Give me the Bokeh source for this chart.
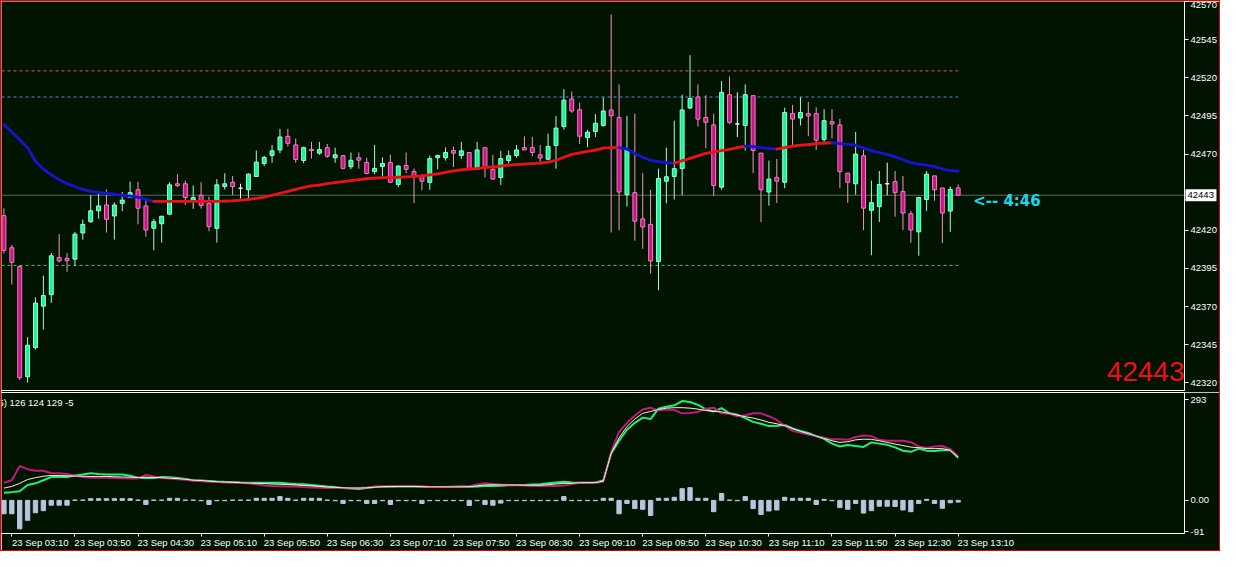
import pandas as pd
from bokeh.plotting import figure
from bokeh.models import (Range1d, FixedTicker, LinearAxis, Span, Label,
                          ColumnDataSource, PrintfTickFormatter)
from bokeh.core.properties import value
from bokeh.layouts import column
from bokeh.embed import file_html
from bokeh.resources import INLINE

# ---------------- data ----------------
bar_start = "2024-09-23 03:05"
bar_minutes = 5

opens = [42429.6, 42408.6, 42396.3, 42324.0, 42343.1, 42370.3, 42377.8, 42402.2, 42401.6, 42401.1,
         42418.3, 42425.6, 42432.8, 42436.6, 42429.4, 42437.7, 42441.5, 42446.6, 42436.0, 42421.3,
         42424.3, 42430.6, 42450.5, 42450.5, 42439.8, 42443.0, 42437.7, 42421.3, 42448.7, 42451.5,
         42447.6, 42446.6, 42455.3, 42463.8, 42469.1, 42472.7, 42481.6, 42476.0, 42465.8, 42473.1,
         42470.6, 42474.2, 42467.6, 42468.9, 42461.7, 42467.6, 42464.5, 42458.5, 42461.8, 42464.5,
         42450.0, 42462.5, 42458.5, 42455.3, 42451.5, 42467.6, 42467.6, 42472.3, 42469.1, 42471.0,
         42460.0, 42474.2, 42460.0, 42454.6, 42465.7, 42469.1, 42474.2, 42474.2, 42469.5, 42466.6,
         42475.6, 42488.0, 42506.1, 42499.0, 42480.8, 42484.8, 42488.7, 42498.9, 42494.0, 42443.4,
         42444.7, 42427.5, 42423.9, 42399.5, 42452.2, 42455.3, 42460.4, 42500.2, 42507.4, 42494.0,
         42489.1, 42448.3, 42508.9, 42489.7, 42488.7, 42508.3, 42470.6, 42445.1, 42454.7, 42451.5,
         42496.5, 42493.6, 42496.5, 42496.5, 42479.5, 42491.2, 42489.1, 42457.5, 42450.5, 42468.9,
         42433.1, 42435.5, 42450.5, 42451.9, 42445.5, 42430.9, 42419.0, 42440.2, 42455.7, 42447.8,
         42432.6, 42447.8]
highs = [42434.5, 42410.5, 42397.0, 42350.0, 42376.0, 42390.3, 42405.1, 42417.5, 42405.1, 42419.0,
         42427.0, 42443.0, 42444.0, 42446.8, 42438.3, 42445.1, 42451.9, 42451.9, 42440.9, 42427.5,
         42429.5, 42451.5, 42456.8, 42452.6, 42449.4, 42451.5, 42442.1, 42453.6, 42457.4, 42455.7,
         42450.5, 42457.4, 42472.3, 42468.9, 42475.9, 42486.5, 42486.5, 42480.2, 42474.9, 42478.0,
         42478.0, 42476.6, 42474.2, 42469.5, 42471.0, 42471.0, 42467.6, 42476.0, 42467.8, 42469.5,
         42462.8, 42471.0, 42460.4, 42456.8, 42469.0, 42469.5, 42474.4, 42474.9, 42478.0, 42471.0,
         42478.0, 42474.2, 42469.5, 42472.0, 42472.3, 42476.0, 42481.6, 42481.2, 42476.0, 42483.4,
         42495.0, 42512.5, 42511.0, 42503.6, 42485.9, 42496.3, 42507.2, 42561.5, 42515.7, 42495.0,
         42496.5, 42457.5, 42446.6, 42460.4, 42474.2, 42491.9, 42508.9, 42534.8, 42515.7, 42508.5,
         42496.5, 42517.8, 42521.0, 42510.4, 42515.7, 42508.3, 42470.6, 42465.7, 42466.8, 42500.4,
         42502.1, 42507.2, 42504.2, 42500.7, 42499.4, 42499.4, 42493.0, 42457.5, 42484.5, 42472.7,
         42452.6, 42458.9, 42464.3, 42458.9, 42455.7, 42432.8, 42441.5, 42458.9, 42455.7, 42447.8,
         42448.7, 42450.0]
lows = [42404.8, 42384.5, 42321.9, 42320.2, 42342.0, 42354.9, 42372.4, 42399.0, 42392.8, 42396.7,
        42413.9, 42425.0, 42427.7, 42418.6, 42413.9, 42432.6, 42441.0, 42423.9, 42415.8, 42406.9,
        42412.0, 42430.0, 42448.5, 42436.6, 42434.1, 42434.3, 42419.4, 42412.0, 42446.8, 42443.0,
        42440.9, 42441.2, 42455.0, 42462.1, 42464.3, 42470.6, 42474.9, 42464.3, 42464.0, 42467.0,
        42469.5, 42467.6, 42464.3, 42460.0, 42460.0, 42460.4, 42456.8, 42456.8, 42455.7, 42451.0,
        42448.3, 42457.4, 42437.7, 42446.2, 42446.6, 42460.0, 42465.7, 42461.5, 42466.8, 42460.0,
        42459.6, 42454.6, 42453.2, 42449.8, 42463.8, 42467.6, 42472.7, 42468.5, 42464.3, 42466.0,
        42460.4, 42486.0, 42497.0, 42476.6, 42474.4, 42481.2, 42488.0, 42418.6, 42420.0, 42435.5,
        42413.2, 42407.9, 42391.6, 42380.7, 42437.7, 42440.2, 42443.0, 42499.5, 42488.0, 42473.8,
        42442.6, 42446.6, 42489.7, 42481.2, 42472.3, 42457.5, 42425.4, 42436.2, 42438.0, 42447.6,
        42474.9, 42488.7, 42481.7, 42472.7, 42477.4, 42480.2, 42447.6, 42438.0, 42443.4, 42420.0,
        42403.7, 42425.4, 42443.0, 42428.9, 42420.2, 42411.8, 42403.3, 42432.6, 42439.4, 42411.7,
        42419.0, 42443.0]
closes = [42406.9, 42399.0, 42323.4, 42344.7, 42372.3, 42377.2, 42403.3, 42399.9, 42400.1, 42417.5,
          42423.9, 42432.8, 42436.0, 42427.2, 42436.6, 42439.8, 42444.7, 42434.5, 42420.2, 42425.6,
          42429.2, 42449.8, 42449.3, 42441.5, 42441.5, 42436.2, 42422.4, 42449.8, 42450.5, 42448.7,
          42447.6, 42456.8, 42464.7, 42467.8, 42472.1, 42481.2, 42477.0, 42466.4, 42474.2, 42472.3,
          42472.9, 42468.5, 42469.5, 42460.6, 42465.9, 42466.0, 42457.2, 42460.6, 42463.8, 42451.5,
          42462.1, 42460.0, 42455.1, 42452.2, 42467.0, 42469.0, 42471.0, 42470.6, 42472.1, 42460.4,
          42472.7, 42461.0, 42453.6, 42467.0, 42468.9, 42472.7, 42472.7, 42471.0, 42467.4, 42475.0,
          42487.0, 42505.3, 42498.2, 42481.7, 42484.4, 42490.2, 42498.2, 42495.1, 42445.1, 42472.7,
          42426.0, 42422.2, 42399.9, 42454.0, 42455.1, 42460.4, 42498.9, 42506.4, 42492.9, 42490.8,
          42449.4, 42510.4, 42490.8, 42489.7, 42508.9, 42472.3, 42446.6, 42453.6, 42452.2, 42497.2,
          42492.9, 42497.2, 42495.0, 42479.1, 42491.9, 42489.7, 42458.5, 42451.5, 42470.0, 42434.5,
          42438.1, 42450.0, 42450.5, 42444.7, 42431.3, 42420.2, 42441.5, 42456.8, 42446.6, 42431.3,
          42446.8, 42443.0]

ma_line = [42489.5, 42484.4, 42479.3, 42474.2, 42465.3, 42460.2, 42456.4, 42453.2, 42450.6, 42448.7,
           42446.8, 42445.5, 42444.9, 42444.3, 42443.6, 42443.0, 42442.4, 42441.7, 42440.2, 42439.0,
           42439.0, 42439.0, 42439.0, 42439.0, 42439.0, 42439.0, 42439.0, 42439.0, 42439.1, 42439.3,
           42439.8, 42440.3, 42441.0, 42441.7, 42443.0, 42444.3, 42445.5, 42446.8, 42448.1, 42449.1,
           42449.7, 42450.6, 42451.3, 42451.9, 42452.6, 42453.2, 42453.8, 42454.2, 42454.5, 42454.5,
           42454.8, 42455.1, 42455.4, 42455.7, 42456.4, 42457.0, 42458.0, 42458.9, 42459.6, 42460.2,
           42460.5, 42461.2, 42461.5, 42462.1, 42462.8, 42463.1, 42463.4, 42463.7, 42464.0, 42464.7,
           42465.9, 42467.9, 42469.8, 42470.7, 42471.7, 42472.6, 42473.9, 42474.2, 42474.2, 42473.3,
           42470.4, 42467.9, 42465.9, 42465.0, 42464.3, 42464.0, 42465.6, 42467.2, 42468.8, 42470.4,
           42471.4, 42472.3, 42473.0, 42474.2, 42475.2, 42474.9, 42474.2, 42473.6, 42473.3, 42474.2,
           42475.2, 42475.8, 42476.1, 42476.8, 42477.1, 42477.4, 42476.8, 42476.4, 42475.8, 42473.9,
           42472.3, 42471.0, 42469.8, 42468.2, 42466.3, 42464.3, 42463.4, 42462.8, 42461.8, 42460.2,
           42459.2, 42458.9]

osc_pink = [51.5, 58.7, 100.0, 90.9, 86.2, 86.2, 79.1, 79.1, 77.1, 72.5,
            68.0, 66.1, 66.1, 66.1, 65.3, 64.2, 63.4, 63.4, 74.4, 69.7,
            65.3, 63.4, 61.4, 59.8, 57.0, 55.9, 54.3, 53.2, 52.3, 51.5,
            50.4, 49.6, 46.8, 43.3, 42.1, 41.3, 40.5, 40.5, 38.6, 37.7,
            36.6, 35.8, 35.8, 35.8, 35.8, 35.8, 37.7, 40.5, 41.3, 41.3,
            42.1, 42.1, 42.1, 40.5, 38.6, 38.6, 38.6, 38.6, 38.6, 41.3,
            46.0, 49.6, 47.7, 46.0, 44.9, 44.1, 43.3, 42.1, 42.1, 42.1,
            42.1, 43.3, 47.7, 51.5, 51.5, 51.5, 54.3, 141.3, 199.7, 225.9,
            247.1, 264.5, 270.0, 261.7, 264.5, 263.1, 253.5, 254.8, 257.6, 267.2,
            270.0, 253.5, 252.1, 245.2, 248.0, 253.5, 253.5, 245.2, 234.2, 217.6,
            202.5, 197.0, 192.0, 187.3, 182.7, 177.7, 178.2, 176.3, 184.6, 188.7,
            187.3, 176.3, 173.6, 173.6, 173.6, 169.4, 157.0, 152.4, 157.0, 158.4,
            148.8, 129.0]
osc_green = [22.0, 24.0, 26.7, 44.9, 49.6, 58.7, 68.0, 68.0, 68.0, 72.5,
             75.2, 79.1, 77.1, 75.2, 75.2, 75.2, 71.6, 65.3, 65.3, 65.3,
             68.0, 67.5, 65.3, 62.0, 58.7, 57.9, 56.5, 55.1, 54.3, 53.7,
             52.3, 51.5, 51.5, 51.5, 51.5, 51.0, 48.8, 47.7, 46.8, 44.9,
             42.7, 40.5, 38.6, 35.8, 34.4, 33.1, 35.8, 38.6, 39.4, 39.9,
             40.5, 40.5, 40.5, 39.9, 38.6, 38.6, 38.6, 39.9, 40.5, 39.9,
             40.5, 42.1, 42.1, 42.7, 44.1, 44.9, 44.9, 46.0, 46.8, 49.6,
             52.3, 54.3, 52.3, 51.5, 51.5, 52.3, 57.9, 136.9, 173.6, 205.8,
             225.9, 241.0, 236.9, 267.2, 272.7, 276.9, 289.3, 286.5, 278.3, 265.3,
             259.0, 268.6, 253.5, 249.3, 239.7, 228.7, 223.2, 216.3, 217.6, 219.5,
             209.4, 202.5, 196.4, 187.3, 179.1, 165.3, 157.0, 161.2, 158.4, 155.7,
             168.9, 165.3, 161.7, 154.3, 144.6, 141.3, 150.7, 144.6, 144.1, 146.0,
             146.0, 124.0]
osc_white = [35.8, 40.5, 49.6, 60.6, 66.1, 70.3, 72.5, 72.5, 71.6, 70.8,
             70.3, 69.7, 69.7, 69.7, 68.9, 68.0, 67.5, 66.9, 67.5, 66.9,
             66.1, 64.7, 63.4, 61.4, 58.7, 57.9, 55.9, 54.3, 53.2, 52.3,
             51.5, 50.4, 49.6, 48.8, 47.7, 46.8, 46.0, 44.9, 43.3, 42.1,
             40.5, 38.6, 37.7, 36.6, 35.8, 35.8, 36.6, 38.6, 39.9, 40.5,
             40.5, 40.5, 40.5, 39.9, 39.4, 39.4, 39.4, 39.4, 39.4, 39.9,
             42.1, 44.9, 45.5, 44.9, 44.9, 44.6, 44.1, 44.1, 44.1, 45.5,
             47.7, 49.6, 49.6, 51.5, 51.5, 51.8, 55.9, 137.8, 181.8, 214.9,
             236.9, 253.5, 259.0, 264.5, 268.6, 270.0, 270.0, 268.6, 265.9, 261.7,
             259.0, 257.6, 253.5, 248.0, 243.8, 239.7, 234.2, 227.3, 223.2, 217.6,
             209.4, 201.1, 194.2, 187.3, 180.5, 173.6, 168.9, 170.8, 176.3, 178.2,
             177.7, 173.6, 168.9, 163.9, 159.8, 155.1, 153.5, 150.7, 150.7, 150.7,
             146.0, 126.0]
osc_hist = [-39, -39, -83, -58, -36, -30, -14, -14, -14, 1,
            1, 5, 5, 5, 5, 5, 5, 1, -12, 1,
            1, 6, 6, 1, 1, -1, -12, -1, -1, 1,
            1, 1, 6, 6, 6, 11, 6, 1, 6, 6,
            6, 1, -1, -9, -1, -1, -9, -9, -1, -12,
            -1, -1, -1, -9, -1, -1, -1, -1, -1, -15,
            -1, -12, -14, -8, -1, -1, -1, -1, -1, -1,
            -1, 11, -1, -1, -1, -1, 6, 6, -39, -9,
            -24, -26, -44, 6, 6, 9, 34, 37, 6, 6,
            -33, 20, 1, -1, 11, -24, -41, -31, -28, 9,
            6, 6, 6, -12, 3, -1, -21, -26, -9, -37,
            -30, -17, -17, -18, -28, -33, -9, 3, -9, -23,
            -7, -5]

levels = [42524.5, 42507.4, 42397.0]
price_ticks = [42320, 42345, 42370, 42395, 42420, 42470, 42495, 42520, 42545, 42570]
ind_ticks = [-91, 0, 293]
ind_tick_labels = ["-91", "0.00", "293"]
x_tick_labels = ["23 Sep 03:10", "23 Sep 03:50", "23 Sep 04:30", "23 Sep 05:10",
                 "23 Sep 05:50", "23 Sep 06:30", "23 Sep 07:10", "23 Sep 07:50",
                 "23 Sep 08:30", "23 Sep 09:10", "23 Sep 09:50", "23 Sep 10:30",
                 "23 Sep 11:10", "23 Sep 11:50", "23 Sep 12:30", "23 Sep 13:10"]
countdown_text = "<-- 4:46"
ind_caption = "5) 126 124 129 -5"

# ---------------- style ----------------
BG = "#001400"
W = 1218
HA = 391
HB = 158
RB = 33
FRAME_W = W - RB
FONT = "Liberation Sans"
FS = "9.5px"
BULL_FILL, BULL_LINE = "#14f59a", "#9effd6"
BEAR_FILL, BEAR_LINE = "#c8158a", "#f07cbf"
DOJI = "#ffffff"
MA_UP, MA_DOWN = "#ee1111", "#1414d2"
LEVEL_COLORS = ["#ff5533", "#4f8ff0", "#2ed22e"]

# ---------------- derived ----------------
times = pd.date_range(bar_start, periods=len(opens), freq=f"{bar_minutes}min")
t_ms = [int(v) for v in (times.asi8 // 10**6)]
step = bar_minutes * 60 * 1000
x_start = t_ms[0] - 0.31 * step
x_end = t_ms[0] + 149.7 * step
xr = Range1d(x_start, x_end)
px_ms = (x_end - x_start) / FRAME_W

day = times[0].strftime("%Y-%m-%d")
x_ticks = [int(pd.Timestamp(f"{day} {lab[-5:]}").value // 10**6) for lab in x_tick_labels]
# labels are centred by Bokeh; non-breaking padding makes the visible text start at its tick
x_overrides = {}
for i, (t, lab) in enumerate(zip(x_ticks, x_tick_labels)):
    n_pad = 4 if i == 0 else 21
    x_overrides[t] = "\u00a0" * n_pad + lab

fills, lines, wicks = [], [], []
for o, c in zip(opens, closes):
    if c > o:
        fills.append(BULL_FILL); lines.append(BULL_LINE); wicks.append(BULL_LINE)
    elif c < o:
        fills.append(BEAR_FILL); lines.append(BEAR_LINE); wicks.append("#f096c4")
    else:
        fills.append(DOJI); lines.append(DOJI); wicks.append(DOJI)

src = ColumnDataSource(dict(
    t=t_ms, o=opens, h=highs, l=lows, c=closes,
    top=[max(o, c) for o, c in zip(opens, closes)],
    bot=[min(o, c) for o, c in zip(opens, closes)],
    fill=fills, line=lines, wick=wicks))


def style_axis(ax):
    ax.axis_line_color = "white"
    ax.major_tick_line_color = "white"
    ax.major_tick_out = 4
    ax.major_tick_in = 0
    ax.minor_tick_line_color = None
    ax.minor_tick_out = 0
    ax.minor_tick_in = 0
    ax.major_label_text_color = "white"
    ax.major_label_text_font = FONT
    ax.major_label_text_font_size = FS
    ax.major_label_standoff = 2


def edge_axis():
    return LinearAxis(ticker=FixedTicker(ticks=[]), axis_line_color="white",
                      major_tick_line_color=None, minor_tick_line_color=None,
                      major_tick_out=0, major_tick_in=0, minor_tick_out=0, minor_tick_in=0,
                      major_label_text_font_size="0px", major_label_standoff=0)


# ---------------- main price panel ----------------
pA = figure(width=W, height=HA, x_range=xr, y_range=Range1d(42315, 42570),
            x_axis_location=None, y_axis_location="right",
            output_backend="svg", toolbar_location=None,
            background_fill_color=BG, border_fill_color=BG,
            min_border_left=0, min_border_top=0, min_border_bottom=2, min_border_right=RB)
pA.outline_line_color = None
pA.grid.visible = False
style_axis(pA.yaxis[0])
pA.yaxis[0].ticker = FixedTicker(ticks=price_ticks)
pA.yaxis[0].formatter = PrintfTickFormatter(format="%d")
pA.add_layout(edge_axis(), "below")

price_line = Span(location=closes[-1], dimension="width", line_color="#5c675a",
                  line_width=1, level="underlay")
pA.add_layout(price_line)

pA.segment(x0=[x_start] * len(levels), y0=levels, x1=[t_ms[-1]] * len(levels), y1=levels,
           line_color=LEVEL_COLORS, line_width=1, line_dash="3 3")

pA.segment(x0="t", y0="l", x1="t", y1="h", line_color="wick", line_width=1, source=src)
pA.vbar(x="t", width=0.5 * step, top="top", bottom="bot", fill_color="fill",
        line_color="line", line_width=1, source=src)

ma_cols = [MA_UP if b >= a else MA_DOWN for a, b in zip(ma_line[:-1], ma_line[1:])]
pA.segment(x0=t_ms[:-1], y0=ma_line[:-1], x1=t_ms[1:], y1=ma_line[1:],
           line_color=ma_cols, line_width=2.8, line_cap="round")

pA.add_layout(Label(x=t_ms[-1], y=closes[-1], x_offset=15, y_offset=-6,
                    text=countdown_text, text_font="DejaVu Sans", text_font_style="bold",
                    text_font_size="15px", text_color="#18d8ee", text_baseline="middle"))
pA.add_layout(Label(x=FRAME_W - 2, x_units="screen", y=42315, y_offset=10,
                    text=f"{closes[-1]:.0f}", text_font=FONT, text_font_size="28px",
                    text_color="#f01010", text_align="right", text_baseline="bottom"))

# current-price marker on the price scale (drawn at overlay level so it sits on the axis)
pA.rect(x=[x_end + 16.5 * px_ms], y=[closes[-1]], width=31, height=12,
        width_units="screen", height_units="screen",
        fill_color="white", line_color=None, level="overlay")
pA.text(x=[x_end], y=[closes[-1]], text=[f"{closes[-1]:.0f}"], x_offset=3,
        text_font=value(FONT), text_font_size=value(FS), text_color="black",
        text_baseline="middle", text_align="left", level="overlay")

# ---------------- oscillator panel ----------------
pB = figure(width=W, height=HB, x_range=xr, y_range=Range1d(-96.5, 314.2),
            x_axis_location="below", y_axis_location="right",
            output_backend="svg", toolbar_location=None,
            background_fill_color=BG, border_fill_color=BG,
            min_border_left=0, min_border_top=0, min_border_bottom=0, min_border_right=RB)
pB.outline_line_color = None
pB.grid.visible = False
style_axis(pB.yaxis[0])
pB.yaxis[0].ticker = FixedTicker(ticks=ind_ticks)
pB.yaxis[0].major_label_overrides = {t: s for t, s in zip(ind_ticks, ind_tick_labels)}
style_axis(pB.xaxis[0])
pB.xaxis[0].major_tick_out = 3
pB.xaxis[0].major_label_standoff = 0
pB.xaxis[0].ticker = FixedTicker(ticks=x_ticks)
pB.xaxis[0].major_label_overrides = x_overrides
pB.add_layout(edge_axis(), "above")

pB.vbar(x=t_ms, width=0.55 * step, top=osc_hist, bottom=0,
        fill_color="#b4c6e0", line_color="#b4c6e0", line_width=1)
pB.line(x=t_ms, y=osc_green, line_color="#1ef07a", line_width=2)
pB.line(x=t_ms, y=osc_pink, line_color="#c2187e", line_width=2)
pB.line(x=t_ms, y=osc_white, line_color="#f4f4d0", line_width=1)

pB.add_layout(Label(x=-3, x_units="screen", y=314.2, y_offset=-4, text=ind_caption,
                    text_font=FONT, text_font_size=FS, text_color="white",
                    text_baseline="top"))

layout = column(pA, pB, spacing=0, styles={"border": "1px solid #e00000"})

open("out.html", "w").write(file_html(layout, INLINE))
